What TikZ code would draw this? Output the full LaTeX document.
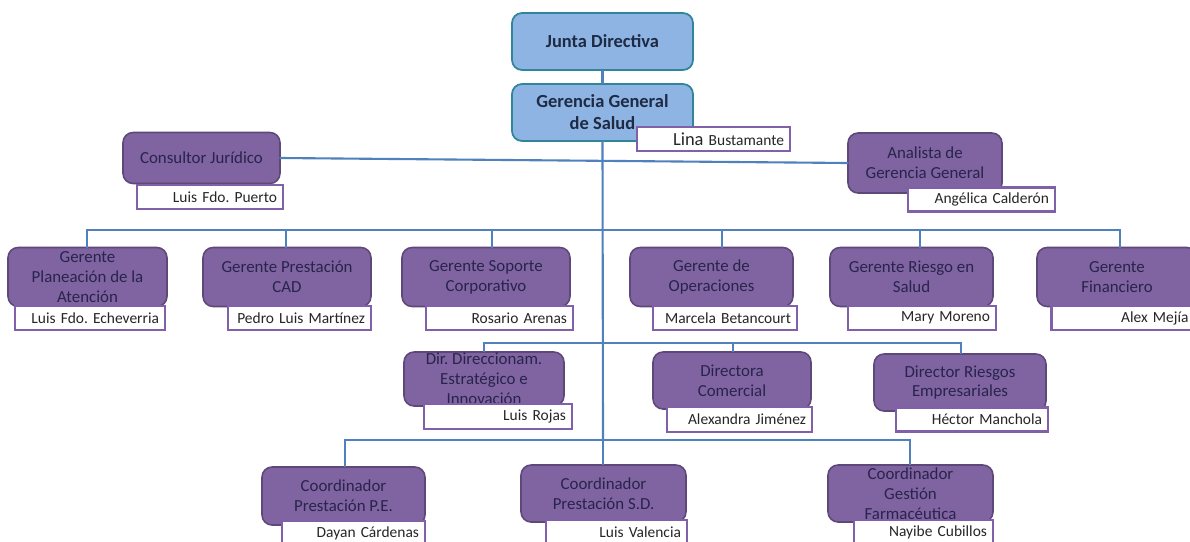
\documentclass[tikz,border=0pt]{standalone}
\usepackage{fontspec}
\setmainfont{Carlito}
\usepackage{tikz}
\usetikzlibrary{positioning}

\definecolor{bossfill}{RGB}{141,180,226}
\definecolor{bossline}{RGB}{49,133,155}
\definecolor{bosstext}{RGB}{31,42,68}
\definecolor{rolefill}{RGB}{128,100,162}
\definecolor{roleline}{RGB}{94,72,122}
\definecolor{roletext}{RGB}{40,36,74}
\definecolor{whoframe}{RGB}{128,96,168}
\definecolor{linkblue}{RGB}{79,129,189}

\tikzset{
    boss/.style={draw=bossline, fill=bossfill, line width=1pt, rounded corners=0.2cm,
        minimum width=3.62cm, minimum height=1.14cm, align=center, text=bosstext,
        font=\fontsize{10.5}{12.6}\selectfont\bfseries},
    role/.style={draw=roleline, fill=rolefill, line width=0.9pt, rounded corners=0.2cm,
        minimum height=1.16cm, inner ysep=0pt, align=center, text=roletext,
        font=\fontsize{9.6}{11.3}\selectfont},
    who/.style={draw=whoframe, fill=white, line width=1.3pt, minimum height=0.48cm,
        inner ysep=0pt, inner xsep=0.12cm, align=right, text=black!85,
        font=\fontsize{8.8}{10}\selectfont\frenchspacing},
    link/.style={draw=linkblue, line width=1.2pt, line cap=rect},
}

\begin{document}
\frenchspacing
\begin{tikzpicture}[x=0.02cm, y=-0.02cm]
            \fill[white] (0,0) rectangle (1190,541);
            \useasboundingbox (0,0) rectangle (1190,541);

            \node[boss] (junta) at (602.5,41.5) {Junta Directiva};
            \node[boss] (gerencia) at (602.5,112.5) {Gerencia General\\de Salud};
            \node[who, text width=2.82cm] (lina) at (713.5,139) {{\fontsize{10.5}{12}\selectfont Lina} Bustamante};

            \node[role, minimum width=3.14cm, minimum height=1.02cm] (juridico) at (201.5,158) {Consultor Jurídico};
            \node[who, text width=2.68cm] (puerto) at (210,197) {Luis Fdo. Puerto};
            \node[role, minimum width=3.08cm, minimum height=1.2cm] (analista) at (925,163) {Analista de\\Gerencia General};
            \node[who, text width=2.70cm] (calderon) at (981.5,199.5) {Angélica Calderón};

            \node[role, minimum width=3.18cm, minimum height=1.18cm] (planeacion) at (87.5,277) {Gerente\\Planeación de la\\Atención};
            \node[role, minimum width=3.36cm, minimum height=1.18cm] (prestacion) at (287,277) {Gerente Prestación\\CAD};
            \node[role, minimum width=3.36cm, minimum height=1.18cm] (soporte) at (486,277) {Gerente Soporte\\Corporativo};
            \node[role, minimum width=3.26cm, minimum height=1.18cm] (operaciones) at (711.5,277) {Gerente de\\Operaciones};
            \node[role, minimum width=3.26cm, minimum height=1.18cm] (riesgo) at (911.5,277) {Gerente Riesgo en\\Salud};
            \node[role, minimum width=3.2cm, minimum height=1.18cm] (financiero) at (1117,277) {Gerente\\Financiero};

            \node[who, text width=2.76cm] (echeverria) at (90,318) {Luis Fdo. Echeverria};
            \node[who, text width=2.62cm] (martinez) at (299.5,318) {Pedro Luis Martínez};
            \node[who, text width=2.70cm] (arenas) at (499.5,318) {Rosario Arenas};
            \node[who, text width=2.64cm] (betancourt) at (725,318) {Marcela Betancourt};
            \node[who, text width=2.72cm] (moreno) at (922,318) {Mary Moreno};
            \node[who, text width=2.62cm] (mejia) at (1123,318) {Alex Mejía};

            \node[role, minimum width=3.2cm, minimum height=1.08cm] (direccionam) at (484,379) {Dir. Direccionam.\\Estratégico e\\Innovación};
            \node[who, text width=2.72cm, minimum height=0.5cm] (rojas) at (498,416.5) {Luis Rojas};
            \node[role, minimum width=3.16cm, minimum height=1.14cm] (comercial) at (732,380.5) {Directora\\Comercial};
            \node[who, text width=2.66cm, minimum height=0.5cm] (jimenez) at (739.5,419.5) {Alexandra Jiménez};
            \node[role, minimum width=3.44cm, minimum height=1.14cm] (riesgos) at (960,382.5) {Director Riesgos\\Empresariales};
            \node[who, text width=2.80cm] (manchola) at (972,419.5) {Héctor Manchola};

            \node[role, minimum width=3.26cm, minimum height=1.16cm] (pe) at (343.5,496) {Coordinador\\Prestación P.E.};
            \node[who, text width=2.62cm] (cardenas) at (353.5,533) {Dayan Cárdenas};
            \node[role, minimum width=3.3cm, minimum height=1.14cm] (sd) at (603.5,493.5) {Coordinador\\Prestación S.D.};
            \node[who, text width=2.58cm] (valencia) at (616.5,532) {Luis Valencia};
            \node[role, minimum width=3.3cm, minimum height=1.14cm] (farm) at (910.5,493.5) {Coordinador\\Gestión\\Farmacéutica};
            \node[who, text width=2.54cm] (cubillos) at (923.5,532) {Nayibe Cubillos};

            \coordinate (spine) at (603,440);
            \coordinate (g1) at (87,230);
            \coordinate (g2) at (286,230);
            \coordinate (g3) at (492,230);
            \coordinate (g4) at (722,230);
            \coordinate (g5) at (920,230);
            \coordinate (g6) at (1120,230);
            \coordinate (d1) at (484,343);
            \coordinate (d2) at (733,343);
            \coordinate (d3) at (961,343);
            \coordinate (c1) at (345,440);
            \coordinate (c3) at (910,440);

            \draw[link] (junta) -- (gerencia);
            \draw[link] (gerencia.south) -- (spine);
            \draw[link] (juridico.east) -- (analista.west);
            \draw[link] (g1) -- (g6);
            \foreach \g/\n in {g1/planeacion, g2/prestacion, g3/soporte, g4/operaciones, g5/riesgo, g6/financiero}{
                \draw[link] (\g) -- (\g |- \n.north);
            };
            \draw[link] (d1) -- (d3);
            \foreach \g/\n in {d1/direccionam, d2/comercial, d3/riesgos}{
                \draw[link] (\g) -- (\g |- \n.north);
            };
            \draw[link] (c1) -- (c3);
            \foreach \g/\n in {c1/pe, spine/sd, c3/farm}{
                \draw[link] (\g) -- (\g |- \n.north);
            };
\end{tikzpicture}
\end{document}
